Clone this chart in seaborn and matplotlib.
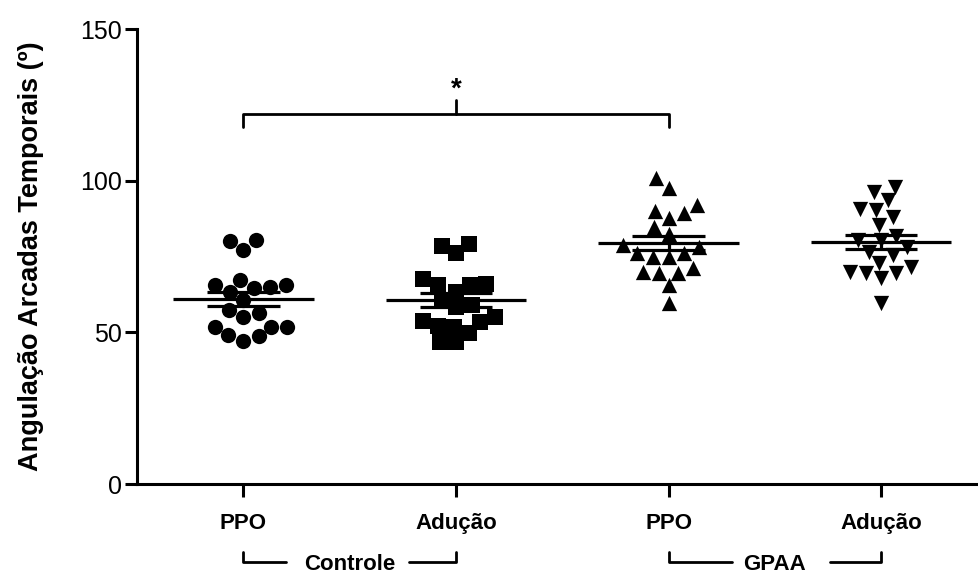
import numpy as np
import pandas as pd
import matplotlib
matplotlib.use("Agg")
import matplotlib.pyplot as plt
import seaborn as sns

# valores (graus)
controle_ppo = [80.0, 77.2, 80.4, 65.6, 65.0, 63.4, 64.5, 65.6, 67.2, 60.7,
                57.4, 56.3, 55.2, 51.9, 49.1, 47.3, 48.8, 51.9, 51.9]
controle_aducao = [78.5, 76.3, 79.1, 67.5, 65.6, 63.4, 65.6, 65.9, 60.7, 58.3,
                   55.0, 59.0, 53.9, 52.1, 49.7, 46.9, 46.9, 51.9, 53.5]
gpaa_ppo = [100.8, 97.5, 92.0, 89.3, 87.6, 90.1, 84.8, 82.4, 78.0, 78.8,
            76.1, 75.0, 75.0, 76.1, 71.1, 69.7, 69.7, 70.0, 65.6, 59.6]
gpaa_aducao = [98.0, 93.6, 96.4, 90.6, 88.1, 90.3, 85.4, 81.8, 80.4, 78.0,
               75.5, 76.6, 80.4, 72.8, 70.0, 69.5, 67.8, 69.5, 71.6, 59.6]

grupos = ["Controle PPO", "Controle Adução", "GPAA PPO", "GPAA Adução"]
rotulos_x = ["PPO", "Adução", "PPO", "Adução"]
marcadores = ["o", "s", "^", "v"]
rotulo_y = "Angulação Arcadas Temporais (º)"

tabela = pd.DataFrame({
    "grupo": np.repeat(grupos, [len(controle_ppo), len(controle_aducao),
                                len(gpaa_ppo), len(gpaa_aducao)]),
    "valor": controle_ppo + controle_aducao + gpaa_ppo + gpaa_aducao,
})

sns.set_style("ticks")
plt.rcParams["font.family"] = ["Liberation Sans", "DejaVu Sans"]
for k in ["text.color", "axes.labelcolor", "xtick.color", "ytick.color", "axes.edgecolor"]:
    plt.rcParams[k] = "black"

fig = plt.figure(figsize=(9.79, 5.73), dpi=100)
ax = fig.add_axes([0.14, 0.1553, 0.86, 0.794])

for g, m in zip(grupos, marcadores):
    sns.swarmplot(data=tabela[tabela["grupo"] == g], x="grupo", y="valor",
                  order=grupos, marker=m, color="black", size=11,
                  linewidth=0, ax=ax)

# média e erro padrão
resumo = tabela.groupby("grupo", sort=False)["valor"].agg(["mean", "sem"])
for i, g in enumerate(grupos):
    media, ep = resumo.loc[g, "mean"], resumo.loc[g, "sem"]
    ax.hlines(media, i - 0.33, i + 0.33, color="black", lw=2.3, zorder=5)
    ax.hlines([media - ep, media + ep], i - 0.17, i + 0.17, color="black", lw=2.3, zorder=5)
    ax.vlines(i, media - ep, media + ep, color="black", lw=2.3, zorder=5)

# barra de significância
ax.plot([0, 0, 2, 2], [117.8, 121.9, 121.9, 117.8], color="black", lw=2, clip_on=False)
ax.plot([1, 1], [121.9, 126.6], color="black", lw=2)
ax.text(1, 130, "*", ha="center", va="center", fontsize=20, fontweight="bold")

ax.set_xlim(-0.5, 3.46)
ax.set_ylim(0, 150)
ax.set_yticks([0, 50, 100, 150])
ax.set_xticks(range(4))
ax.set_xticklabels(rotulos_x, fontsize=16, fontweight="bold")
ax.tick_params(axis="y", labelsize=18, length=9, width=2.2, pad=2)
ax.tick_params(axis="x", length=9, width=2.2, pad=12)
ax.set_xlabel("")
ax.set_ylabel(rotulo_y, fontsize=19.5, fontweight="bold", labelpad=26)
for s in ["left", "bottom"]:
    ax.spines[s].set_linewidth(2.2)
ax.spines["top"].set_visible(False)
ax.spines["right"].set_visible(False)

# colchetes dos grupos abaixo do eixo
trans = ax.get_xaxis_transform()
for i0, nome, esq, dir_ in [(0, "Controle", 0.2, 0.78), (2, "GPAA", 0.3, 0.76)]:
    y0, y1 = -0.150, -0.172
    ax.plot([i0, i0, i0 + esq], [y0, y1, y1], color="black", lw=2, transform=trans, clip_on=False)
    ax.plot([i0 + dir_, i0 + 1, i0 + 1], [y1, y1, y0], color="black", lw=2, transform=trans, clip_on=False)
    ax.text(i0 + 0.5, y1 - 0.004, nome, ha="center", va="center", fontsize=16,
            fontweight="bold", transform=trans)

fig.savefig("out.png", dpi=100)
